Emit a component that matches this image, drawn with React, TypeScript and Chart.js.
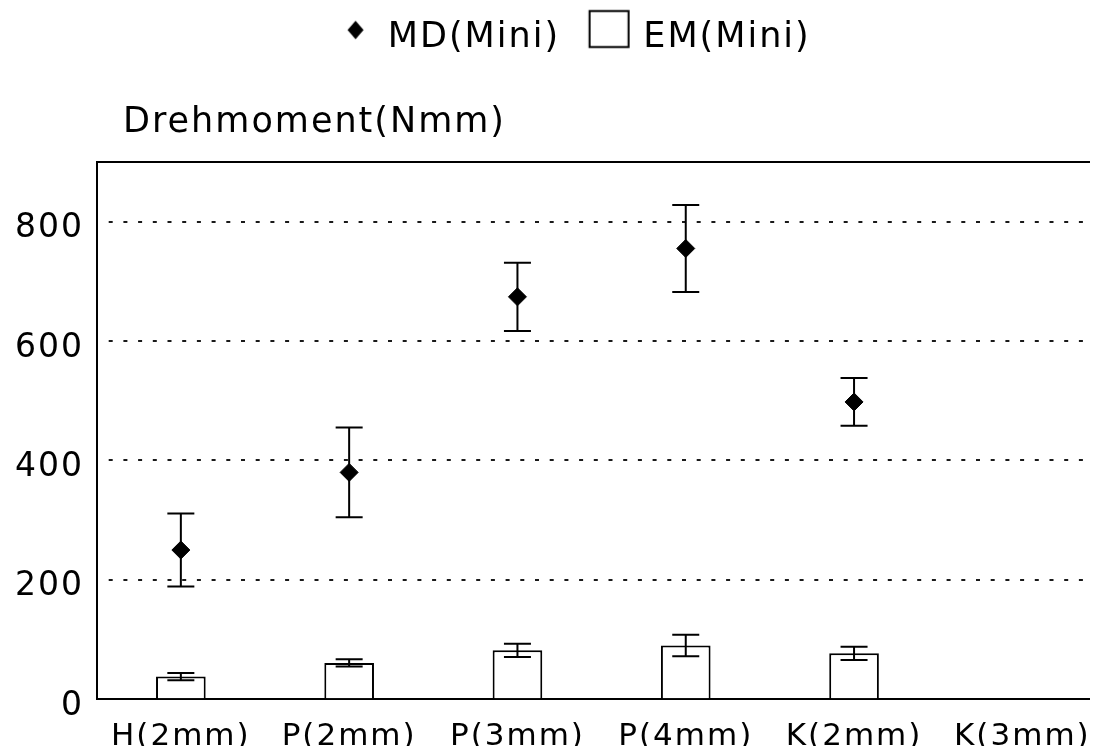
import { useEffect, useRef } from 'react';
import { Chart, registerables } from 'chart.js';

Chart.register(...registerables);

// Torque per tool type, mean and standard deviation (Nmm)
const categories = ['H(2mm)', 'P(2mm)', 'P(3mm)', 'P(4mm)', 'K(2mm)', 'K(3mm)'];
const mdMean = [250, 380, 674, 755, 498, null];
const mdErr = [61, 75, 57, 73, 40, null];
const emMean = [38, 61, 82, 90, 77, null];
const emErr = [6, 6, 11, 18, 11, null];
const seriesNames = ['MD(Mini)', 'EM(Mini)'];
const yTicks = [0, 200, 400, 600, 800];
const yMax = 900;
const axisCaption = 'Drehmoment(Nmm)';

const FONT = "'DejaVu Sans'";
const SPACING = '2px';

// Small offscreen icons for the legend entries
function makeIcon(dx: number, dy: number, hw: number, hh: number, draw: (ctx: CanvasRenderingContext2D, cx: number, cy: number) => void) {
  const c = document.createElement('canvas');
  c.width = Math.ceil(2 * (Math.abs(dx) + hw + 3));
  c.height = Math.ceil(2 * (Math.abs(dy) + hh + 3));
  const ctx = c.getContext('2d')!;
  draw(ctx, c.width / 2 + dx, c.height / 2 + dy);
  return c;
}

const textSpacing = {
  id: 'textSpacing',
  beforeUpdate(chart: any) {
    chart.ctx.letterSpacing = SPACING;
  },
  beforeDraw(chart: any) {
    chart.ctx.letterSpacing = SPACING;
  },
};

const errorBars = {
  id: 'errorBars',
  afterDatasetsDraw(chart: any) {
    const { ctx, scales } = chart;
    const y = scales.y;
    chart.data.datasets.forEach((ds: any, di: number) => {
      const errs: (number | null)[] = ds.errors;
      if (!errs) return;
      const meta = chart.getDatasetMeta(di);
      meta.data.forEach((el: any, i: number) => {
        const v = ds.data[i];
        const e = errs[i];
        if (v == null || e == null) return;
        const x = el.x;
        const yTop = y.getPixelForValue(v + e);
        const yBot = y.getPixelForValue(v - e);
        const half = 13.5;
        ctx.save();
        ctx.strokeStyle = '#000';
        ctx.lineWidth = 2;
        ctx.beginPath();
        ctx.moveTo(x, yTop);
        ctx.lineTo(x, yBot);
        ctx.moveTo(x - half, yTop);
        ctx.lineTo(x + half, yTop);
        ctx.moveTo(x - half, yBot);
        ctx.lineTo(x + half, yBot);
        ctx.stroke();
        ctx.restore();
      });
    });
  },
};

const caption = {
  id: 'caption',
  afterDraw(chart: any) {
    const { ctx, chartArea } = chart;
    ctx.save();
    ctx.letterSpacing = SPACING;
    ctx.font = `35px ${FONT}`;
    ctx.fillStyle = '#000';
    ctx.textAlign = 'left';
    ctx.textBaseline = 'alphabetic';
    ctx.fillText(axisCaption, chartArea.left + 26.3, chartArea.top - 29.9);
    ctx.restore();
  },
};

export default function App() {
  const ref = useRef<HTMLCanvasElement | null>(null);

  useEffect(() => {
    if (!ref.current) return;

    const mdIcon = makeIcon(11.75, -8.2, 8, 9.3, (ctx, cx, cy) => {
      ctx.fillStyle = '#000';
      ctx.beginPath();
      ctx.moveTo(cx, cy - 9.3);
      ctx.lineTo(cx + 8, cy);
      ctx.lineTo(cx, cy + 9.3);
      ctx.lineTo(cx - 8, cy);
      ctx.closePath();
      ctx.fill();
    });
    const emIcon = makeIcon(9.75, -9.2, 20.5, 19, (ctx, cx, cy) => {
      ctx.fillStyle = '#fff';
      ctx.strokeStyle = '#000';
      ctx.lineWidth = 2;
      ctx.fillRect(cx - 20.5, cy - 19, 41, 38);
      ctx.strokeRect(cx - 19.5, cy - 18, 39, 36);
    });

    const chart = new Chart(ref.current, {
      type: 'bar',
      data: {
        labels: categories,
        datasets: [
          {
            type: 'line',
            label: seriesNames[0],
            data: mdMean,
            errors: mdErr,
            showLine: false,
            pointStyle: 'rectRot',
            pointRadius: 9,
            pointBackgroundColor: '#000',
            pointBorderColor: '#000',
            pointBorderWidth: 1,
            order: 0,
          } as any,
          {
            type: 'bar',
            label: seriesNames[1],
            data: emMean,
            errors: emErr,
            backgroundColor: '#fff',
            borderColor: '#000',
            borderWidth: 2,
            barPercentage: 0.295,
            categoryPercentage: 1,
            order: 1,
          } as any,
        ],
      },
      options: {
        animation: false,
        responsive: false,
        events: [],
        layout: { padding: 0 },
        plugins: {
          tooltip: { enabled: false },
          title: { display: false },
          legend: {
            display: true,
            position: 'top',
            labels: {
              usePointStyle: true,
              pointStyleWidth: 53,
              padding: 12.7,
              color: '#000',
              font: { family: FONT, size: 35 },
              generateLabels: () => [
                { text: seriesNames[0], pointStyle: mdIcon, fillStyle: '#000', strokeStyle: '#000', lineWidth: 0, hidden: false, datasetIndex: 0 },
                { text: seriesNames[1], pointStyle: emIcon, fillStyle: '#fff', strokeStyle: '#000', lineWidth: 0, hidden: false, datasetIndex: 1 },
              ] as any,
            },
          },
        },
        scales: {
          x: {
            type: 'category',
            position: 'bottom',
            offset: true,
            grid: { display: false, drawTicks: false },
            border: { display: true, color: '#000', width: 2 },
            ticks: { font: { family: FONT, size: 31 }, color: '#000', padding: 19, maxRotation: 0, autoSkip: false },
            afterFit: (s: any) => { s.height = 54.7; },
          },
          xTop: {
            type: 'category',
            position: 'top',
            offset: true,
            grid: { display: false, drawTicks: false },
            ticks: { display: false },
            border: { display: true, color: '#000', width: 2 },
            afterFit: (s: any) => { s.height = 96.2; },
          },
          y: {
            type: 'linear',
            position: 'left',
            min: 0,
            max: yMax,
            afterBuildTicks: (s: any) => { s.ticks = yTicks.map((value) => ({ value })); },
            afterFit: (s: any) => { s.width = 88.7; },
            ticks: { font: { family: FONT, size: 33 }, color: '#000', padding: 12.7, labelOffset: 7 },
            grid: {
              color: (c: any) => (c.tick && c.tick.value === 0 ? 'rgba(0,0,0,0)' : '#1a1a1a'),
              lineWidth: 2,
              drawTicks: false,
            },
            border: { display: true, color: '#000', width: 2, dash: [4, 10.7], dashOffset: 4 },
          },
          yRight: {
            type: 'linear',
            position: 'right',
            min: 0,
            max: yMax,
            grid: { display: false },
            ticks: { display: false },
            border: { display: false },
            afterFit: (s: any) => { s.width = 13.5; },
          },
        },
      } as any,
      plugins: [textSpacing, errorBars, caption],
    });

    return () => chart.destroy();
  }, []);

  return (
    <div style={{ width: 1090, height: 746, marginBottom: -8, overflow: 'hidden' }}>
      <canvas ref={ref} width={1112} height={746} style={{ display: 'block' }} />
    </div>
  );
}
